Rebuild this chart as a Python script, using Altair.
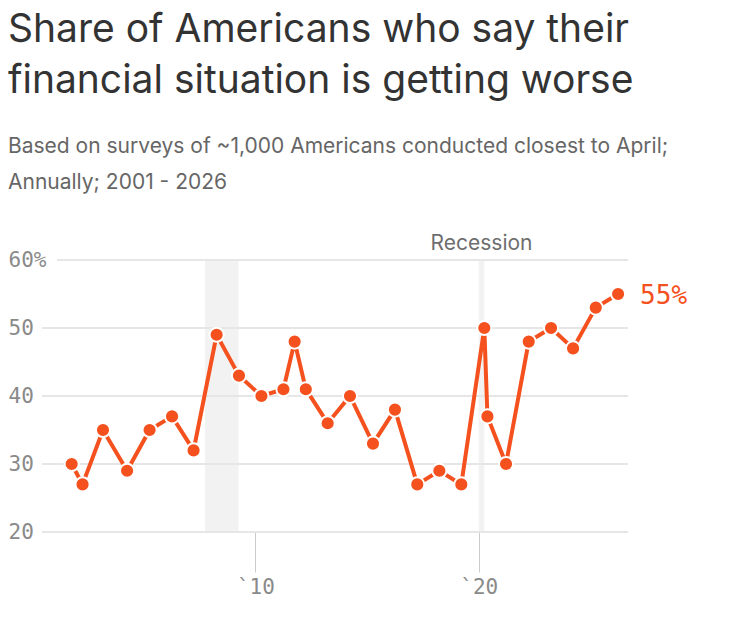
import altair as alt
import pandas as pd

# Survey dates and share saying their financial situation is getting worse (%)
dates = [
    "2001-10-12", "2002-04-08", "2003-03-08", "2004-04-05", "2005-04-08",
    "2006-04-10", "2007-03-28", "2008-04-08", "2009-04-08", "2010-04-10",
    "2011-04-05", "2011-10-05", "2012-04-05", "2013-03-28", "2014-03-28",
    "2015-04-08", "2016-04-01", "2017-04-01", "2018-03-28", "2019-03-22",
    "2020-04-01", "2020-05-22", "2021-03-22", "2022-03-28", "2023-03-28",
    "2024-03-22", "2025-03-28", "2026-03-28",
]
values = [30, 27, 35, 29, 35, 37, 32, 49, 43, 40, 41, 48, 41, 36, 40,
          33, 38, 27, 29, 27, 50, 37, 30, 48, 50, 47, 53, 55]

rec_start = ["2007-10-01", "2020-01-01"]
rec_end = ["2009-04-01", "2020-04-01"]

grid_values = [20, 30, 40, 50, 60]
grid_start = ["2000-06-14", "2000-06-14", "2000-06-14", "2000-06-14", "2001-02-15"]
grid_end = ["2026-09-06"] * 5

x_domain = ["2000-06-14", "2026-09-06"]
x_ticks = ["2010-01-01", "2020-01-01"]
y_domain = [20, 60]

ORANGE = "#f4511e"

df = pd.DataFrame({"date": dates, "value": values})
rec = pd.DataFrame({"start": rec_start, "end": rec_end, "top": [60, 60], "bottom": [20, 20]})
grid = pd.DataFrame({"start": grid_start, "end": grid_end, "v": grid_values})
rec_label = pd.DataFrame({"date": ["2020-02-15"], "v": [60], "t": ["Recession"]})
last = df.tail(1).assign(t=lambda d: d["value"].astype(str) + "%")

xscale = alt.Scale(domain=x_domain)
yscale = alt.Scale(domain=y_domain)

bands = alt.Chart(rec).mark_rect(color="#f2f2f2").encode(
    x=alt.X("start:T", scale=xscale,
            axis=alt.Axis(values=x_ticks, labelExpr="'`' + timeFormat(datum.value, '%y')",
                          grid=False, domain=False, tickSize=40, tickColor="#cccccc",
                          tickWidth=1, labelFont="DejaVu Sans Mono", labelFontSize=21,
                          labelColor="#8a8a8a", labelPadding=4, title=None)),
    x2="end:T",
    y=alt.Y("top:Q", scale=yscale,
            axis=alt.Axis(values=grid_values, labelExpr="datum.value == 60 ? datum.value + '%' : datum.value",
                          grid=False, domain=False, ticks=False, tickSize=0,
                          labelAlign="left", labelBaseline="middle", labelPadding=34,
                          labelFont="DejaVu Sans Mono", labelFontSize=21,
                          labelColor="#8a8a8a", title=None)),
    y2="bottom:Q",
)

grid_rules = alt.Chart(grid).mark_rule(color="#e6e6e6", strokeWidth=2).encode(
    x=alt.X("start:T", scale=xscale),
    x2="end:T",
    y=alt.Y("v:Q", scale=yscale),
)

rec_text = alt.Chart(rec_label).mark_text(
    font="Inter", fontSize=21, color="#6e6e6e", align="center", baseline="middle", dy=-16
).encode(
    x=alt.X("date:T", scale=xscale),
    y=alt.Y("v:Q", scale=yscale),
    text="t:N",
)

line = alt.Chart(df).mark_line(color=ORANGE, strokeWidth=4).encode(
    x=alt.X("date:T", scale=xscale),
    y=alt.Y("value:Q", scale=yscale),
)

points = alt.Chart(df).mark_point(
    filled=True, fill=ORANGE, stroke="white", strokeWidth=2, size=200, opacity=1, shape="circle"
).encode(
    x=alt.X("date:T", scale=xscale),
    y=alt.Y("value:Q", scale=yscale),
)

end_label = alt.Chart(last).mark_text(
    font="DejaVu Sans Mono", fontSize=26, color=ORANGE, align="left", baseline="middle", dx=22, dy=2
).encode(
    x=alt.X("date:T", scale=xscale),
    y=alt.Y("value:Q", scale=yscale),
    text="t:N",
)

chart = alt.layer(bands, grid_rules, rec_text, line, points, end_label).properties(
    width=586,
    height=272,
    autosize=alt.AutoSizeParams(type="none"),
    padding={"left": 34, "top": 252, "right": 114, "bottom": 100},
    title=alt.TitleParams(
        text=["Share of Americans who say their", "financial situation is getting worse"],
        subtitle=["Based on surveys of ~1,000 Americans conducted closest to April;",
                  "Annually; 2001 - 2026"],
        anchor="start",
        frame="group",
        dx=-34,
        offset=40,
        font="Inter",
        fontSize=39,
        fontWeight="normal",
        color="#333333",
        lineHeight=51,
        subtitleFont="Inter",
        subtitleFontSize=21,
        subtitleColor="#666666",
        subtitleLineHeight=36,
        subtitlePadding=35,
    ),
).configure_view(stroke=None)

chart.save("out.html", embed_options={"renderer": "svg", "actions": False})
